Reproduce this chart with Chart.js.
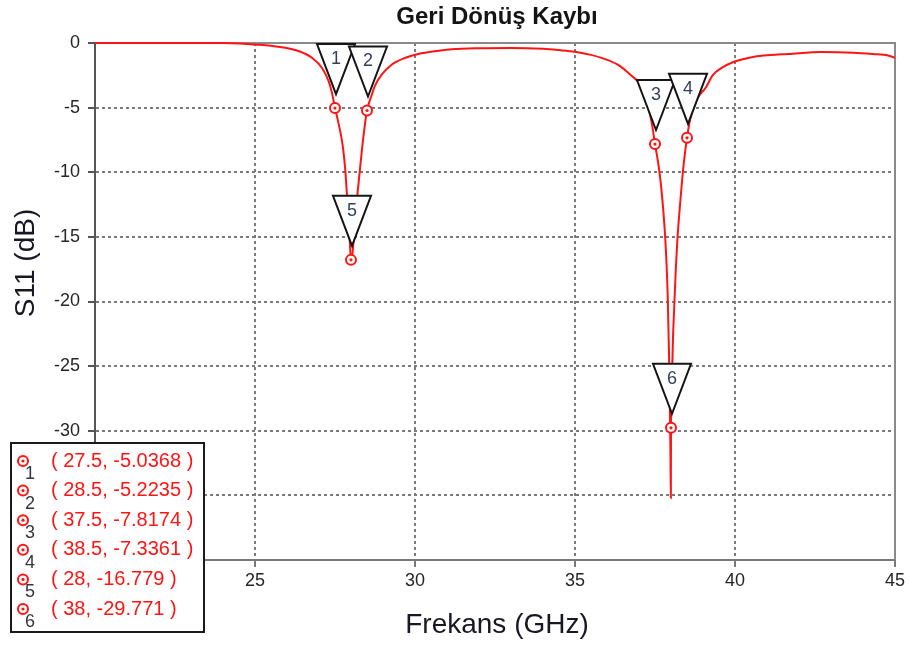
<!DOCTYPE html>
<html>
<head>
<meta charset="utf-8">
<script src="https://cdn.jsdelivr.net/npm/chart.js@4/dist/chart.umd.min.js"></script>
<style>
  html, body { margin: 0; padding: 0; background: #fff; }
  #wrap { width: 909px; height: 646px; position: relative; }
</style>
</head>
<body>
<div id="wrap"><canvas id="c" width="909" height="646"></canvas></div>
<script>
// S11 sweep, frequency in GHz and return loss in dB
const freqGHz = [
  20, 22, 24, 24.5, 25, 25.5, 25.85, 26.4, 26.8, 27.1, 27.3, 27.4, 27.5,
  27.6, 27.7, 27.76, 27.82, 27.87, 27.94, 28.0, 28.05, 28.12, 28.23, 28.34,
  28.42, 28.5, 28.65, 28.75, 28.96, 29.27, 29.68, 30.1, 30.74, 31.15, 32,
  33, 34, 34.5, 35, 35.5, 35.85, 36.35, 36.75, 37.0, 37.2, 37.4, 37.5,
  37.6, 37.7, 37.8, 37.85, 37.9, 37.95, 37.98, 37.995, 38.0, 38.03, 38.06,
  38.1, 38.15, 38.2, 38.3, 38.4, 38.5, 38.6, 38.8, 39.1, 39.3, 39.57, 39.97,
  40.6, 41.1, 41.66, 42.7, 43.7, 44.3, 44.78, 45
];
const s11dB = [
  0, 0, 0, -0.03, -0.12, -0.22, -0.33, -0.66, -1.18, -1.95, -2.95, -3.8, -5.04,
  -6.1, -7.3, -8.3, -9.8, -11.6, -14.2, -16.78, -16.2, -13.8, -11.0, -8.3,
  -6.6, -5.22, -4.0, -3.3, -2.45, -1.68, -1.16, -0.85, -0.6, -0.48, -0.4,
  -0.38, -0.45, -0.55, -0.68, -0.92, -1.17, -1.7, -2.5, -3.1, -4.2, -6.2, -7.82,
  -9.3, -11.3, -14.3, -16.5, -19.8, -25.5, -31, -35.2, -29.77, -26, -23,
  -20.5, -17.5, -15.2, -12, -9.3, -7.34, -5.9, -4.4, -3.4, -2.5, -1.95, -1.45,
  -1.06, -0.93, -0.85, -0.7, -0.75, -0.85, -0.96, -1.15
];

// Markers placed on the trace
const markerIds  = ['1', '2', '3', '4', '5', '6'];
const markerFreq = [27.5, 28.5, 37.5, 38.5, 28, 38];
const markerS11  = [-5.0368, -5.2235, -7.8174, -7.3361, -16.779, -29.771];

// Axis ranges and tick spacing
const xRange = [20, 45];
const xStep = 5;
const yRange = [-40, 0];
const yStep = 5;

const chartTitle = 'Geri Dönüş Kaybı';
const xTitle = 'Frekans (GHz)';
const yTitle = 'S11 (dB)';

const FONT = '"Liberation Sans", Arial, sans-serif';
const RED = '#ff1414';

const tracePoints = freqGHz.map((f, i) => ({ x: f, y: s11dB[i] }));
const markerPoints = markerFreq.map((f, i) => ({ x: f, y: markerS11[i] }));

function drawTarget(ctx, x, y) {
  ctx.save();
  ctx.beginPath();
  ctx.arc(x, y, 5, 0, Math.PI * 2);
  ctx.fillStyle = '#fff';
  ctx.fill();
  ctx.lineWidth = 2;
  ctx.strokeStyle = RED;
  ctx.stroke();
  ctx.beginPath();
  ctx.arc(x, y, 1.6, 0, Math.PI * 2);
  ctx.fillStyle = RED;
  ctx.fill();
  ctx.restore();
}

// Frame lines, titles, marker flags and the marker readout box
const decorations = {
  id: 'decorations',
  beforeDatasetsDraw(chart) {
    const { ctx, chartArea: a } = chart;
    ctx.save();
    ctx.strokeStyle = '#8a8a8a';
    ctx.lineWidth = 2;
    ctx.beginPath();
    ctx.moveTo(a.left, a.top);
    ctx.lineTo(a.right, a.top);
    ctx.lineTo(a.right, a.bottom);
    ctx.stroke();
    ctx.restore();
  },
  afterDatasetsDraw(chart) {
    const { ctx } = chart;
    const xs = chart.scales.x, ys = chart.scales.y;
    ctx.save();
    markerFreq.forEach((f, i) => {
      const px = xs.getPixelForValue(f) + 1;
      const py = ys.getPixelForValue(markerS11[i]);
      const tip = py - 14, top = tip - 50, half = 19;
      ctx.beginPath();
      ctx.moveTo(px - half, top);
      ctx.lineTo(px + half, top);
      ctx.lineTo(px, tip);
      ctx.closePath();
      ctx.fillStyle = '#fff';
      ctx.fill();
      ctx.lineWidth = 2;
      ctx.lineJoin = 'miter';
      ctx.strokeStyle = '#141414';
      ctx.stroke();
      ctx.fillStyle = '#34405a';
      ctx.font = '18px ' + FONT;
      ctx.textAlign = 'center';
      ctx.textBaseline = 'middle';
      ctx.fillText(markerIds[i], px, top + 15);
    });
    ctx.restore();
  },
  afterDraw(chart) {
    const { ctx } = chart;
    ctx.save();
    // chart title
    ctx.fillStyle = '#141414';
    ctx.font = 'bold 24px ' + FONT;
    ctx.textAlign = 'center';
    ctx.textBaseline = 'middle';
    ctx.fillText(chartTitle, 497, 17);
    // axis titles
    ctx.font = '28px ' + FONT;
    ctx.fillStyle = '#181824';
    ctx.fillText(xTitle, 497, 625);
    ctx.save();
    ctx.translate(26, 263);
    ctx.rotate(-Math.PI / 2);
    ctx.fillText(yTitle, 0, 0);
    ctx.restore();

    // marker readout box
    const bx = 11, by = 443, bw = 193, bh = 189;
    ctx.fillStyle = '#fff';
    ctx.fillRect(bx, by, bw, bh);
    ctx.lineWidth = 2;
    ctx.strokeStyle = '#1a1a1a';
    ctx.strokeRect(bx, by, bw, bh);
    markerIds.forEach((id, i) => {
      const ry = 461 + i * 29.6;
      drawTarget(ctx, 23, ry);
      ctx.fillStyle = '#33383f';
      ctx.font = '18px ' + FONT;
      ctx.textAlign = 'center';
      ctx.textBaseline = 'middle';
      ctx.fillText(id, 30, ry + 13);
      ctx.fillStyle = RED;
      ctx.font = '20px ' + FONT;
      ctx.textAlign = 'left';
      ctx.fillText('( ' + markerFreq[i] + ', ' + markerS11[i] + ' )', 51, ry);
    });
    ctx.restore();
  }
};

new Chart(document.getElementById('c'), {
  type: 'scatter',
  data: {
    datasets: [
      {
        type: 'line',
        data: tracePoints,
        borderColor: RED,
        borderWidth: 2,
        pointRadius: 0,
        cubicInterpolationMode: 'monotone',
        clip: { left: 0, top: 2, right: 0, bottom: 0 },
        order: 3
      },
      {
        data: markerPoints,
        pointRadius: 5,
        pointBorderWidth: 2,
        pointBorderColor: RED,
        pointBackgroundColor: '#fff',
        clip: false,
        order: 2
      },
      {
        data: markerPoints,
        pointRadius: 1.6,
        pointBorderWidth: 0,
        pointBackgroundColor: RED,
        clip: false,
        order: 1
      }
    ]
  },
  options: {
    responsive: false,
    animation: false,
    devicePixelRatio: 1,
    layout: { padding: { top: 43, right: 14, left: 0, bottom: 0 } },
    plugins: {
      legend: { display: false },
      tooltip: { enabled: false },
      title: { display: false }
    },
    scales: {
      x: {
        type: 'linear',
        min: xRange[0],
        max: xRange[1],
        afterFit(scale) { scale.height = 86; },
        ticks: {
          stepSize: xStep,
          padding: 3,
          color: '#262626',
          font: { family: FONT, size: 18 }
        },
        grid: {
          color: '#7a7a7a',
          lineWidth: 2,
          tickLength: 7,
          tickColor: '#7a7a7a',
          tickWidth: 2
        },
        border: { color: '#7a7a7a', width: 2, dash: [3, 3] }
      },
      y: {
        type: 'linear',
        min: yRange[0],
        max: yRange[1],
        afterFit(scale) { scale.width = 95; },
        ticks: {
          stepSize: yStep,
          padding: 8,
          color: '#262626',
          font: { family: FONT, size: 18 }
        },
        grid: {
          color: '#7a7a7a',
          lineWidth: 2,
          tickLength: 7,
          tickColor: '#555',
          tickWidth: 2
        },
        border: { color: '#555', width: 2, dash: [3, 3] }
      }
    }
  },
  plugins: [decorations]
});
</script>
</body>
</html>
